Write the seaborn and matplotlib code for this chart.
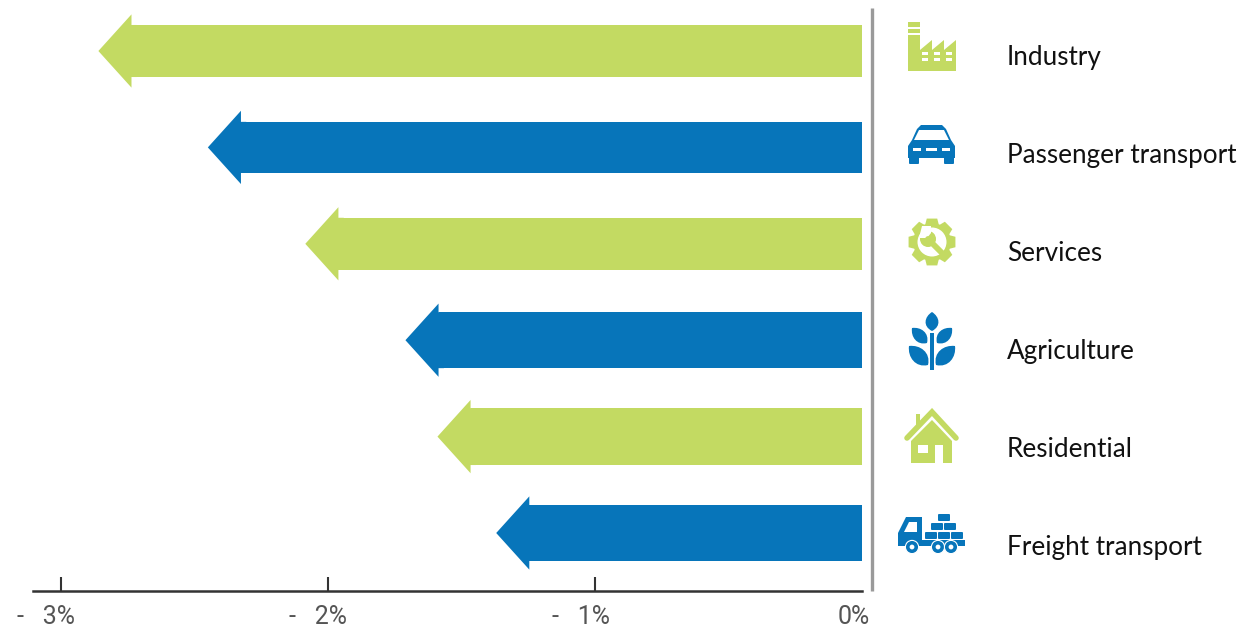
import numpy as np
import pandas as pd
import matplotlib
matplotlib.use("Agg")
import matplotlib.pyplot as plt
from matplotlib.patches import Polygon, Rectangle, Circle, PathPatch, FancyBboxPatch
from matplotlib.path import Path
import seaborn as sns

sectors = ["Industry", "Passenger transport", "Services", "Agriculture", "Residential", "Freight transport"]
change_pct = [-2.86, -2.45, -2.085, -1.71, -1.59, -1.37]
tick_values = [-3, -2, -1]
tick_labels = ["-   3%", "-   2%", "-   1%", "0%"]

GREEN = "#C3DA62"
BLUE = "#0775BA"
WHITE = "white"
HEAD_LEN = 0.124
HEAD_SPAN = 0.76
BODY_SPANS = [0.54, 0.53, 0.54, 0.58, 0.59, 0.58]

W, H = 1244, 630
sns.set_theme(style="white")
plt.rcParams["font.family"] = ["Lato", "DejaVu Sans"]
fig = plt.figure(figsize=(W / 100, H / 100), dpi=100, facecolor="white")
ax = fig.add_axes([33 / W, (H - 591) / H, (862 - 33) / W, 591 / H])

# Arrow shafts stop where the head begins; the head reaches the actual value.
frame = pd.DataFrame({"sector": sectors, "shaft": [v + HEAD_LEN for v in change_pct]})
colors = [GREEN if i % 2 == 0 else BLUE for i in range(len(sectors))]
sns.barplot(data=frame, y="sector", x="shaft", hue="sector", palette=colors,
            legend=False, orient="h", saturation=1, width=0.55, ax=ax)
for i, (bar, span) in enumerate(zip(ax.patches, BODY_SPANS)):
    bar.set_y(i - span / 2)
    bar.set_height(span)
    bar.set_linewidth(0)
    base = change_pct[i] + HEAD_LEN
    # The head runs a little way under the shaft so no seam shows between them.
    ax.add_patch(Polygon([(change_pct[i], i), (base, i - HEAD_SPAN / 2), (base, i - span / 2),
                          (base + 0.02, i - span / 2), (base + 0.02, i + span / 2),
                          (base, i + span / 2), (base, i + HEAD_SPAN / 2)],
                         closed=True, facecolor=colors[i], edgecolor="none"))

ax.set_xlim((33 - 862) / 267, 0)
ax.set_ylim((591 - 51) / 96.4, -51 / 96.4)
ax.set_xlabel("")
ax.set_ylabel("")
ax.set_yticks([])
ax.set_xticks(tick_values)
ax.set_xticklabels([])
ax.tick_params(axis="x", direction="in", length=10, width=1.5, color="#333333", bottom=True)
for side in ("top", "left", "right"):
    ax.spines[side].set_visible(False)
ax.spines["bottom"].set_color("#333333")
ax.spines["bottom"].set_linewidth(1.8)
ax.patch.set_alpha(0)

# Overlay in figure pixels for the divider, labels and pictograms.
ov = fig.add_axes([0, 0, 1, 1], zorder=5)
ov.set_xlim(0, W)
ov.set_ylim(H, 0)
ov.axis("off")
ov.plot([872, 872], [8, 591], color="#9A9A9A", lw=2.4, solid_capstyle="butt")

for i, name in enumerate(sectors):
    ov.text(1007, 57 + 98.1 * i, name, fontsize=18.8, color="#111111", va="center", ha="left",
            family=["Lato", "DejaVu Sans"])

for x, text in zip([75, 347, 610, 870], tick_labels):
    ov.text(x, 617, text, fontsize=18, color="#555555", va="center", ha="right",
            family=["Roboto", "DejaVu Sans"])


def poly(pts, color):
    ov.add_patch(Polygon(pts, closed=True, facecolor=color, edgecolor="none"))


def rect(x0, y0, x1, y1, color):
    ov.add_patch(Rectangle((x0, y0), x1 - x0, y1 - y0, facecolor=color, edgecolor="none"))


def brick(x0, y0, x1, y1, color):
    ov.add_patch(FancyBboxPatch((x0 + 1, y0 + 1), x1 - x0 - 2, y1 - y0 - 2,
                                boxstyle="round,pad=1", facecolor=color, edgecolor="none"))


def leaf(base, tip, bulge, color):
    """Pointed leaf between two points, bowed by `bulge` on each side."""
    b, t = np.array(base, float), np.array(tip, float)
    d = t - b
    n = np.array([-d[1], d[0]]) / np.hypot(*d) * bulge
    verts = [b, b + d * 0.25 + n, b + d * 0.75 + n * 0.8, t,
             b + d * 0.75 - n * 0.8, b + d * 0.25 - n, b]
    codes = [Path.MOVETO] + [Path.CURVE4] * 6
    ov.add_patch(PathPatch(Path(verts, codes), facecolor=color, edgecolor="none"))


# Factory
rect(908, 22, 920, 27, GREEN)
rect(908, 29, 920, 33, GREEN)
poly([(908, 35), (920, 35), (920, 50), (932, 40), (932, 50), (944, 40), (944, 50), (956, 40),
      (956, 71), (908, 71)], GREEN)
for x0 in (922, 934, 946):
    for y0 in (52, 58):
        rect(x0, y0, x0 + 6, y0 + 3, WHITE)

# Car
ov.add_patch(PathPatch(Path(
    [(908, 158), (908, 146), (912, 140), (917, 129), (921, 125), (942, 125), (946, 129),
     (951, 140), (955, 146), (955, 158), (908, 158)],
    [Path.MOVETO] + [Path.LINETO] * 9 + [Path.CLOSEPOLY]), facecolor=BLUE, edgecolor="none"))
poly([(914, 140), (919, 130), (944, 130), (949, 140)], WHITE)
brick(909, 154, 919, 164, BLUE)
brick(944, 154, 954, 164, BLUE)
rect(913, 148, 921, 151, WHITE)
rect(926, 148, 937, 151, WHITE)
rect(942, 148, 950, 151, WHITE)

# Gear with wrench
gear_pts = []
for k in range(8):
    a = k * np.pi / 4 - np.pi / 2
    for da, r in ((-0.36, 19), (-0.22, 24), (0.22, 24), (0.36, 19)):
        gear_pts.append((932 + r * np.cos(a + da), 242 + r * np.sin(a + da)))
poly(gear_pts, GREEN)
ov.add_patch(Circle((932, 242), 14.5, facecolor=WHITE, edgecolor="none"))
ov.add_patch(Circle((928, 239), 8, facecolor=GREEN, edgecolor="none"))
ov.plot([928, 942], [239, 253], color=GREEN, lw=4.2, solid_capstyle="round")
poly([(919, 238), (927, 238), (931, 233), (931, 226), (922, 226)], WHITE)

# Sprouting plant
rect(930, 333, 934, 370, BLUE)
leaf((932, 331), (932, 312), 9.5, BLUE)
leaf((927, 343), (912, 328), 9, BLUE)
leaf((937, 343), (952, 328), 9, BLUE)
leaf((928, 365), (909, 346), 11, BLUE)
leaf((936, 365), (955, 346), 11, BLUE)

# House
rect(916, 414, 920, 426, GREEN)
ov.plot([907, 932, 956], [438, 412, 438], color=GREEN, lw=4, solid_capstyle="round",
        solid_joinstyle="miter")
poly([(911, 441), (932, 420), (952, 441), (952, 463), (911, 463)], GREEN)
rect(918, 445, 928, 453, WHITE)
rect(935, 445, 943, 463, WHITE)

# Flatbed truck with bricks
poly([(898, 546), (898, 533), (906, 517), (922, 517), (922, 546)], BLUE)
poly([(904, 532), (909, 522), (917, 522), (917, 532)], WHITE)
rect(921, 540, 965, 546, BLUE)
for x0, y0, x1, y1 in [(938, 514, 950, 521), (931, 523, 943, 530), (944, 523, 956, 530),
                       (925, 532, 937, 539), (938, 532, 950, 539), (951, 532, 963, 539)]:
    brick(x0, y0, x1, y1, BLUE)
for cx in (912, 938, 951):
    ov.add_patch(Circle((cx, 547), 6.6, facecolor=BLUE, edgecolor=WHITE, lw=0.8))
    ov.add_patch(Circle((cx, 547), 2.4, facecolor=WHITE, edgecolor="none"))

fig.savefig("out.png", dpi=100, facecolor="white")
